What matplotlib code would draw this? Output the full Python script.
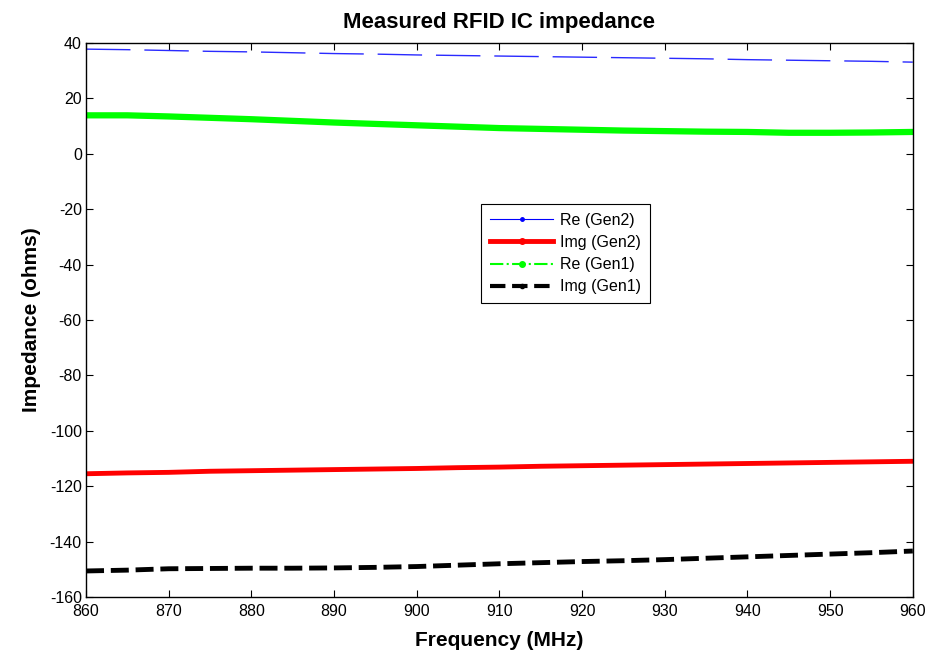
import numpy as np
import matplotlib
matplotlib.use('Agg')
import matplotlib.pyplot as plt
from matplotlib.lines import Line2D

plt.rcParams['font.family'] = ['Liberation Sans', 'DejaVu Sans']
plt.rcParams['axes.unicode_minus'] = False

# frequency points (MHz)
freq = [860, 865, 870, 875, 880, 885, 890, 895, 900, 905, 910,
        915, 920, 925, 930, 935, 940, 945, 950, 955, 960]

re_gen2 = [37.8, 37.6, 37.3, 37.0, 36.8, 36.5, 36.2, 36.0, 35.7, 35.5, 35.3,
           35.1, 34.9, 34.7, 34.5, 34.3, 34.0, 33.8, 33.6, 33.4, 33.1]
re_gen1 = [13.9, 13.9, 13.5, 13.0, 12.5, 11.9, 11.3, 10.8, 10.3, 9.8, 9.3,
           9.0, 8.7, 8.4, 8.2, 8.0, 7.9, 7.6, 7.6, 7.7, 7.9]
img_gen2 = [-115.5, -115.2, -115.0, -114.6, -114.4, -114.2, -114.0, -113.8, -113.6, -113.3, -113.1,
            -112.8, -112.6, -112.4, -112.2, -112.0, -111.8, -111.6, -111.4, -111.2, -111.0]
img_gen1 = [-150.6, -150.3, -149.8, -149.7, -149.6, -149.6, -149.5, -149.3, -149.0, -148.5, -148.0,
            -147.6, -147.2, -146.9, -146.5, -146.0, -145.5, -145.0, -144.5, -144.0, -143.4]

labels = ['Re (Gen2)', 'Img (Gen2)', 'Re (Gen1)', 'Img (Gen1)']

fig = plt.figure(figsize=(9.3, 6.58), dpi=100)
ax = fig.add_axes([0.0925, 0.0927, 0.889, 0.8419])

ax.plot(freq, re_gen2, color='#2a2aff', lw=1.0, dashes=(32, 10))
ax.plot(freq, re_gen1, color='#00ff00', lw=4.5, solid_capstyle='round')
ax.plot(freq, img_gen2, color='#ff0000', lw=3.5, solid_capstyle='round')
ax.plot(freq, img_gen1, color='black', lw=3.5, dashes=(3.7, 1.4))

ax.set_xlim(860, 960)
ax.set_ylim(-160, 40)
ax.set_xticks(np.arange(860, 961, 10))
ax.set_yticks(np.arange(-160, 41, 20))
ax.tick_params(direction='in', top=True, right=True, labelsize=11.5, length=5, pad=3)
ax.tick_params(axis='x', pad=5)
for s in ax.spines.values():
    s.set_linewidth(1.0)

ax.set_xlabel('Frequency (MHz)', fontsize=15, fontweight='bold', labelpad=9)
ax.set_ylabel('Impedance (ohms)', fontsize=15, fontweight='bold', labelpad=6)
ax.set_title('Measured RFID IC impedance', fontsize=16, fontweight='bold', pad=11)

handles = [
    Line2D([], [], color='blue', lw=0.8, marker='.', markersize=5),
    Line2D([], [], color='red', lw=3.5, marker='.', markersize=8),
    Line2D([], [], color='#00ff00', lw=1.5, ls='-.', marker='.', markersize=8),
    Line2D([], [], color='black', lw=3, ls='--', marker='.', markersize=6),
]
leg = ax.legend(handles, labels, loc='upper left', bbox_to_anchor=(0.4775, 0.7095),
                fontsize=11.5, frameon=True, fancybox=False, framealpha=1,
                edgecolor='black', handlelength=4.0, borderpad=0.55,
                labelspacing=0.45, handletextpad=0.4, borderaxespad=0)
leg.get_frame().set_linewidth(0.8)

fig.savefig('out.png', dpi=100)
